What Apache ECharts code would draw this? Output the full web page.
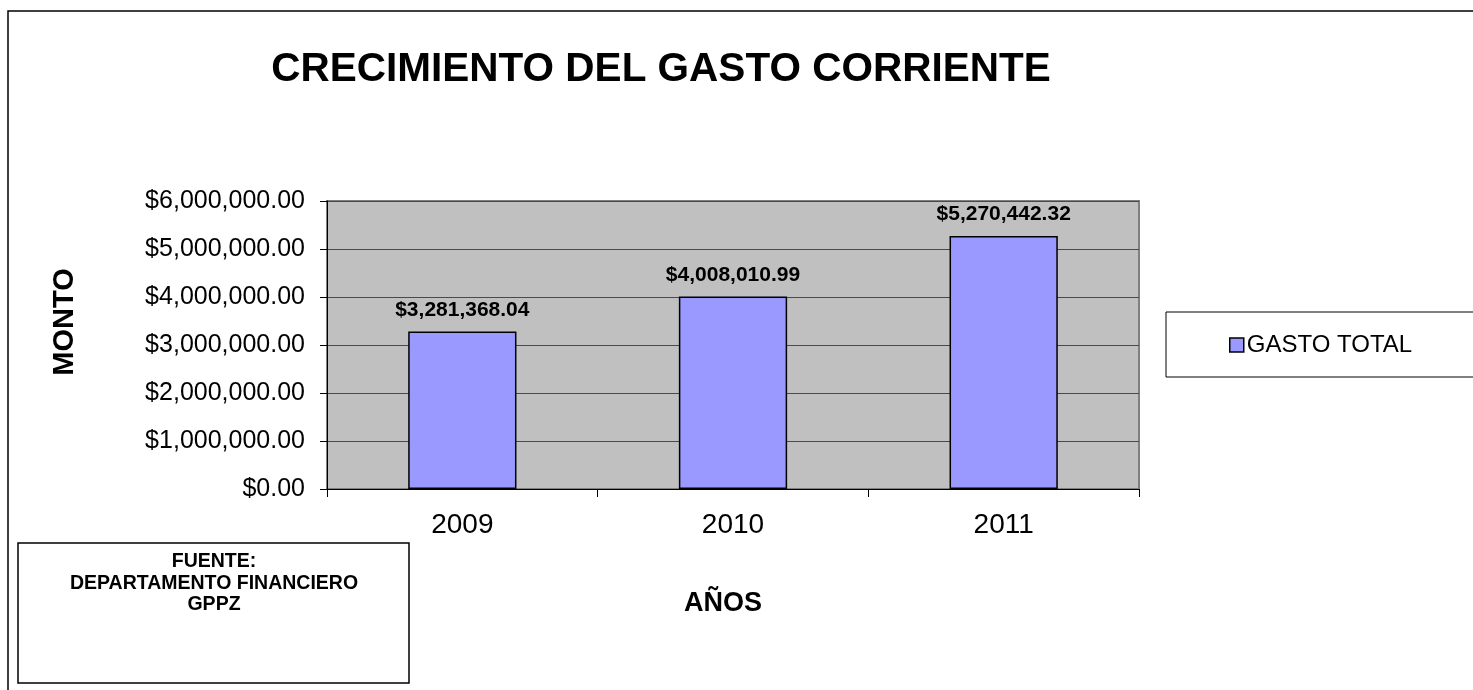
<!DOCTYPE html>
<html>
<head>
<meta charset="utf-8">
<script src="https://cdn.jsdelivr.net/npm/echarts@6/dist/echarts.min.js"></script>
<style>
html,body{margin:0;padding:0;background:#fff;}
#chart{width:1473px;height:690px;}
</style>
</head>
<body>
<div id="chart"></div>
<script>
const categories = ['2009', '2010', '2011'];
const gastoTotal = [3281368.04, 4008010.99, 5270442.32];
const seriesName = 'GASTO TOTAL';
const titleText = 'CRECIMIENTO DEL GASTO CORRIENTE';
const yAxisTitle = 'MONTO';
const xAxisTitle = 'AÑOS';
const sourceLines = ['FUENTE:', 'DEPARTAMENTO FINANCIERO', 'GPPZ'];
const yMin = 0, yMax = 6000000, yStep = 1000000;

const FONT = '"Liberation Sans", Arial, Helvetica, sans-serif';
function money(v) {
  return '$' + Number(v).toLocaleString('en-US', {minimumFractionDigits: 2, maximumFractionDigits: 2});
}

const chart = echarts.init(document.getElementById('chart'), null, {renderer: 'canvas'});
chart.setOption({
  backgroundColor: '#ffffff',
  animation: false,
  textStyle: {fontFamily: FONT},
  title: {
    text: titleText,
    left: 656,
    textAlign: 'center',
    top: 44,
    textStyle: {fontSize: 40.5, fontWeight: 'bold', color: '#000', fontFamily: FONT}
  },
  legend: {
    data: [seriesName],
    left: 1229,
    top: 333,
    padding: 0,
    itemWidth: 14,
    itemHeight: 14,
    itemGap: 4,
    icon: 'rect',
    textStyle: {fontSize: 24, color: '#000', fontFamily: FONT, padding: [0, 0, 0, -2]},
    itemStyle: {borderColor: '#000', borderWidth: 1.5}
  },
  grid: {left: 327, right: 334, top: 201, bottom: 201, show: true, backgroundColor: '#c0c0c0', borderColor: '#808080', borderWidth: 2},
  xAxis: {
    type: 'category',
    data: categories,
    axisLine: {show: true, lineStyle: {color: '#000', width: 1}},
    axisTick: {show: true, alignWithLabel: false, length: 8, lineStyle: {color: '#000'}},
    axisLabel: {fontSize: 28, color: '#000', margin: 22, fontFamily: FONT},
    splitLine: {show: false}
  },
  yAxis: {
    type: 'value',
    min: yMin,
    max: yMax,
    interval: yStep,
    axisLine: {show: true, lineStyle: {color: '#000', width: 1}},
    axisTick: {show: true, length: 7, lineStyle: {color: '#000'}},
    axisLabel: {fontSize: 25, color: '#000', margin: 22, fontFamily: FONT, formatter: money},
    splitLine: {show: true, lineStyle: {color: '#4a4a4a', width: 1}}
  },
  series: [{
    name: seriesName,
    type: 'bar',
    data: gastoTotal,
    barWidth: '40%',
    itemStyle: {color: '#9999ff', borderColor: '#000', borderWidth: 1.5},
    label: {
      show: true,
      position: 'top',
      distance: 11,
      fontSize: 21,
      fontWeight: 'bold',
      color: '#000',
      fontFamily: FONT,
      formatter: p => money(p.value)
    }
  }],
  graphic: [
    {type: 'polyline', shape: {points: [[8, 690], [8, 11], [1473, 11]]}, style: {stroke: '#000', lineWidth: 1.5, fill: null}, z: 0},
    {type: 'rect', shape: {x: 1166, y: 312, width: 330, height: 65}, style: {stroke: '#000', lineWidth: 1, fill: '#fff'}, z: -1},
    {type: 'rect', shape: {x: 18, y: 543, width: 391, height: 140}, style: {stroke: '#000', lineWidth: 1.5, fill: '#fff'}},
    {type: 'text', x: 214, y: 551, style: {text: sourceLines.join('\n'), font: 'bold 19.5px ' + FONT, fill: '#000', align: 'center', verticalAlign: 'top', lineHeight: 21.5}},
    {type: 'text', x: 65, y: 322, rotation: Math.PI / 2, style: {text: yAxisTitle, font: 'bold 29px ' + FONT, fill: '#000', align: 'center', verticalAlign: 'middle'}},
    {type: 'text', x: 723, y: 604, style: {text: xAxisTitle, font: 'bold 27px ' + FONT, fill: '#000', align: 'center', verticalAlign: 'middle'}}
  ]
});
</script>
</body>
</html>
